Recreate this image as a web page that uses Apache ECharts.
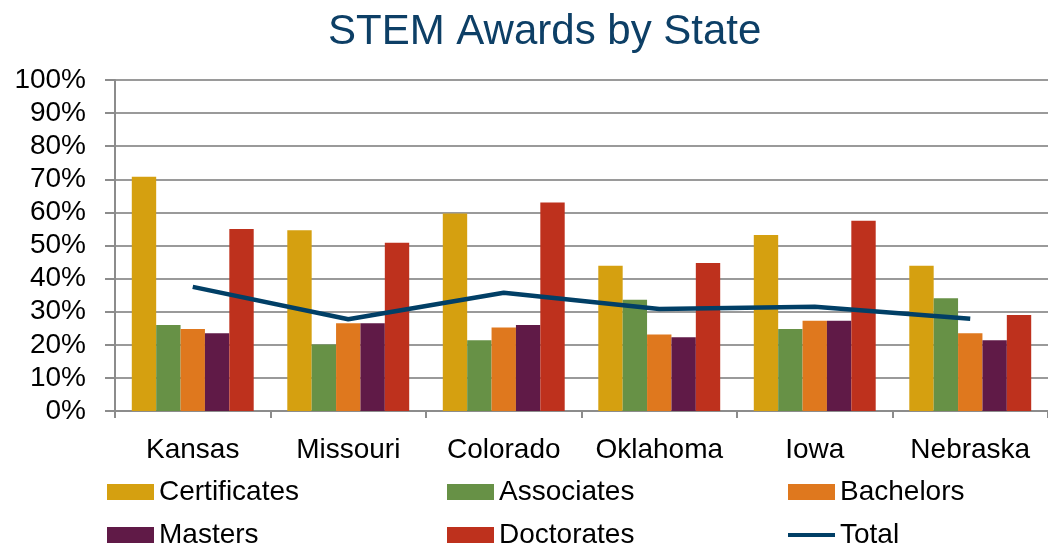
<!DOCTYPE html>
<html><head><meta charset="utf-8">
<script src="https://cdn.jsdelivr.net/npm/echarts@6/dist/echarts.min.js"></script>
<style>html,body{margin:0;padding:0;background:#fff}#c{width:1048px;height:546px}</style>
</head><body><div id="c"></div>
<script>
const states = ['Kansas','Missouri','Colorado','Oklahoma','Iowa','Nebraska'];
const certificates = [70.8, 54.6, 59.7, 43.9, 53.2, 43.9];
const associates   = [26.0, 20.1, 21.4, 33.6, 24.8, 34.1];
const bachelors    = [24.8, 26.5, 25.2, 23.1, 27.3, 23.5];
const masters      = [23.5, 26.5, 26.0, 22.3, 27.3, 21.4];
const doctorates   = [55.0, 50.8, 63.0, 44.7, 57.5, 29.0];
const total        = [37.5, 27.7, 35.7, 30.8, 31.5, 27.9];
const yTicks = [0,10,20,30,40,50,60,70,80,90,100];

const FONT = 'Liberation Sans, Arial, Helvetica, sans-serif';
const colors = {
  Certificates:'#D5A010', Associates:'#679146', Bachelors:'#DF781E',
  Masters:'#601A47', Doctorates:'#BE311D', Total:'#013F66'
};
function bar(name, data){
  return {name, type:'bar', data, barGap:'0%', barCategoryGap:'21.6%',
    itemStyle:{color:colors[name]}, z:2};
}
const legendText = {color:'#000', fontSize:28, fontFamily:FONT, lineHeight:30};
function legend(name, left, top){
  const isLine = name === 'Total';
  return {orient:'horizontal', left, top, itemWidth:47, itemHeight:isLine?4:16,
    icon: isLine ? 'path://M0,0L47,0L47,4L0,4Z' : 'rect',
    data:[name], textStyle:legendText, selectedMode:false, padding:0};
}
const chart = echarts.init(document.getElementById('c'), null, {renderer:'canvas'});
chart.setOption({
  animation:false,
  title:{text:'STEM Awards by State', left:323, top:6,
    textStyle:{color:'#0D3F66', fontSize:42, fontWeight:'normal', fontFamily:FONT}},
  grid:{left:115, right:-11, top:80, bottom:135, containLabel:false},
  legend:[
    legend('Certificates', 107, 477),
    legend('Associates', 447, 477),
    legend('Bachelors', 788, 477),
    legend('Masters', 107, 520),
    legend('Doctorates', 447, 520),
    legend('Total', 788, 520)
  ],
  xAxis:{type:'category', data:states,
    axisLine:{lineStyle:{color:'#8c8c8c', width:2}},
    axisTick:{show:true, interval:0, length:7, lineStyle:{color:'#8c8c8c', width:2}},
    axisLabel:{interval:0, color:'#000', fontSize:28, fontFamily:FONT, margin:25}},
  yAxis:{type:'value', min:0, max:100, interval:10,
    axisLine:{show:true, lineStyle:{color:'#8c8c8c', width:2}},
    axisTick:{show:true, length:10, lineStyle:{color:'#8c8c8c', width:2}},
    splitLine:{lineStyle:{color:'#9a9a9a', width:2}},
    axisLabel:{color:'#000', fontSize:28, fontFamily:FONT, margin:29,
      formatter:v=>yTicks.includes(v)?v+'%':''}},
  series:[
    bar('Certificates', certificates),
    bar('Associates', associates),
    bar('Bachelors', bachelors),
    bar('Masters', masters),
    bar('Doctorates', doctorates),
    {name:'Total', type:'line', data:total, symbol:'none', z:5,
      lineStyle:{color:colors.Total, width:4.5}, itemStyle:{color:colors.Total}}
  ]
});
</script></body></html>
